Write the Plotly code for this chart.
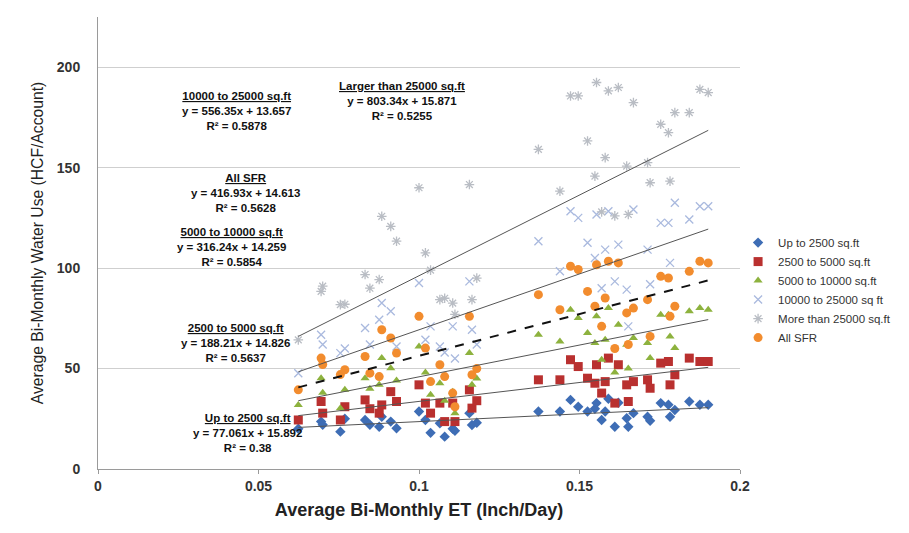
import plotly.graph_objects as go
import numpy as np

# Shared ET values (Inch/Day) per bi-monthly period
et = [0.0624, 0.0695, 0.0700, 0.0755, 0.0769, 0.0832, 0.0847, 0.0876, 0.0884, 0.0912,
      0.0930, 0.1000, 0.1020, 0.1036, 0.1065, 0.1080, 0.1105, 0.1112, 0.1157, 0.1165,
      0.1180,
      0.1372, 0.1439, 0.1472, 0.1496, 0.1525, 0.1548, 0.1553, 0.1569, 0.1580, 0.1590,
      0.1610, 0.1621, 0.1647, 0.1652, 0.1668, 0.1712, 0.1720, 0.1753, 0.1777, 0.1782,
      0.1797, 0.1842, 0.1875, 0.1901]

up_to_2500 = [20, 23.6, 22, 18.6, 25, 24.4, 22, 21, 26, 23.6,
              20.3, 28.6, 24.4, 18, 22.8, 16.1, 20, 19, 27.8, 21.9,
              23,
              28.6, 28.6, 34.4, 31, 28.6, 30, 32.8, 24.4, 28.6, 35,
              21, 33, 25.3, 21, 27.8, 26, 24, 32.8, 32, 26,
              29.4, 33.6, 32, 32]
s2500_5000 = [24.4, 33.6, 27.8, 24.4, 31, 34.4, 30, 27.8, 31.9, 38.5,
              33.6, 41.9, 32.8, 27.8, 32.8, 23.6, 32.8, 23.6, 39.4, 30.3,
              34,
              44.4, 44.4, 54.4, 51, 45.2, 42.7, 51.9, 37.8, 43.5, 55.2,
              32.8, 51.9, 41.9, 33.6, 43.5, 44.4, 40.2, 52.7, 53.5, 41.9,
              46.9, 55.2, 53.5, 53.5]
s5000_10000 = [31.9, 45.2, 38, 30.3, 39.4, 45.2, 40, 41.9, 55.2, 50.2,
               44, 61, 48, 36.9, 42.7, 34, 38.5, 27.8, 57.7, 41.9,
               45,
               66.8, 63.5, 79.3, 75.2, 67.7, 62.7, 76, 54.4, 64.3, 80.1,
               48, 71.8, 61.8, 50, 65.2, 62.7, 55.2, 76.8, 76.8, 66,
               60.2, 78.5, 80.1, 79.3]
s10000_25000 = [47.7, 66.8, 62, 57.7, 60, 70.2, 62, 74.3, 82.6, 78.5,
                61, 92.6, 64.3, 71, 61, 58, 71, 55, 93.4, 69.3,
                62,
                113.4, 98.4, 128.3, 125, 112.6, 105, 126.7, 90, 109.2, 128.3,
                93.4, 111.7, 89.3, 71, 129.2, 109.2, 92, 122.5, 122.5, 102.6,
                132.5, 124.2, 130.8, 130.8]
more_25000 = [64.3, 88.4, 91, 81.8, 82, 96.8, 90, 94.3, 125.8, 120.8,
              113.4, 140, 107.6, 99, 84.3, 85, 82.6, 77, 141.6, 84.3,
              95,
              159.1, 138.3, 185.7, 185.7, 163.3, 145.8, 192.4, 128, 155, 188.2,
              126, 189.9, 150.8, 126.7, 182.4, 152.5, 142.5, 171.6, 167.4, 143.3,
              177.4, 177.4, 189, 187.4]
all_sfr = [39.4, 55.2, 52, 47, 49.4, 56, 47.7, 46, 69.3, 65.2,
           57.7, 76, 60.2, 43.5, 51.9, 46, 37.8, 31, 76, 46.9,
           50,
           86.8, 79.3, 100.9, 99.3, 88.4, 81, 101.7, 71, 85.1, 103.4,
           60, 102.6, 77.7, 62, 80.1, 84.3, 66, 95.9, 95.1, 76,
           81, 98.4, 103.4, 102.6]

series_names = ["Up to 2500 sq.ft", "2500 to 5000 sq.ft", "5000 to 10000 sq.ft",
                "10000 to 25000 sq ft", "More than 25000 sq.ft", "All SFR"]
series_values = [up_to_2500, s2500_5000, s5000_10000, s10000_25000, more_25000, all_sfr]

# Linear trendline coefficients (slope, intercept, R²) as printed on the chart
trend_titles = ["Up to 2500 sq.ft", "2500 to 5000 sq.ft", "5000 to 10000 sq.ft",
                "10000 to 25000 sq.ft", "Larger than 25000 sq.ft", "All SFR"]
slopes = [77.061, 188.21, 316.24, 556.35, 803.34, 416.93]
intercepts = [15.892, 14.826, 14.259, 13.657, 15.871, 14.613]
r2 = ["0.38", "0.5637", "0.5854", "0.5878", "0.5255", "0.5628"]

x_ticks = [0, 0.05, 0.1, 0.15, 0.2]
x_tick_labels = ["0", "0.05", "0.1", "0.15", "0.2"]
y_ticks = [0, 50, 100, 150, 200]

colors = ["#3E6DB5", "#B9302F", "#8DB23E", "#A9B9DE", "#B9BDC4", "#F28C2E"]
symbols = ["diamond", "square", "triangle-up", "x-thin-open", "asterisk-open", "circle"]
sizes = [8, 9, 8, 8, 8, 9]

FONT = "Liberation Sans, Arial, sans-serif"

fig = go.Figure()

for name, vals, c, s, sz in zip(series_names, series_values, colors, symbols, sizes):
    if s.endswith("open"):
        marker = dict(symbol=s, size=sz, color=c, line=dict(color=c, width=1.3))
    else:
        marker = dict(symbol=s, size=sz, color=c, line=dict(width=0))
    fig.add_trace(go.Scatter(x=et, y=vals, mode="markers", name=name, marker=marker))

xline = np.array([min(et), max(et)])
for i, (m, b) in enumerate(zip(slopes, intercepts)):
    dashed = (i == 5)
    fig.add_trace(go.Scatter(
        x=xline, y=m * xline + b, mode="lines", showlegend=False, hoverinfo="skip",
        line=dict(color="#111111" if dashed else "#555555",
                  width=2 if dashed else 1,
                  dash="dash" if dashed else "solid")))

# annotation anchor positions (data coords, top-centre)
ann_x = [0.0467, 0.0427, 0.0417, 0.0430, 0.0947, 0.0458]
ann_y = [29.5, 74, 122, 189.5, 194.5, 149]
for t, m, b, r, ax, ay in zip(trend_titles, slopes, intercepts, r2, ann_x, ann_y):
    txt = f"<b><u>{t}</u></b><br><b>y = {m}x + {b}</b><br><b>R² = {r}</b>"
    fig.add_annotation(x=ax, y=ay, xref="x", yref="y", text=txt, showarrow=False,
                       xanchor="center", yanchor="top", align="center",
                       font=dict(family=FONT, size=11.5, color="#111111"))

# page body has an 8px margin: figure is sized/offset to compensate
fig.update_layout(
    width=901, height=525,
    margin=dict(l=90, r=169, t=9, b=64, autoexpand=False),
    paper_bgcolor="white", plot_bgcolor="white",
    font=dict(family=FONT, color="#333333"),
    legend=dict(x=0.997, y=0.533, xanchor="left", yanchor="top",
                font=dict(size=11.5, color="#333333"), tracegroupgap=2,
                itemwidth=30, bgcolor="rgba(0,0,0,0)"),
    xaxis=dict(range=[0, 0.2], tickvals=x_ticks, ticktext=x_tick_labels,
               showgrid=False, zeroline=False, showline=True, linecolor="#9a9a9a",
               ticks="outside", ticklen=4, tickcolor="#9a9a9a",
               tickfont=dict(size=14, color="#333333", family=FONT, weight="bold"),
               title=dict(text="<b>Average Bi-Monthly ET (Inch/Day)</b>",
                          font=dict(size=18, color="#222222", family=FONT), standoff=10)),
    yaxis=dict(range=[0, 225], tickvals=y_ticks, showgrid=True, gridcolor="#cfcfcf",
               zeroline=False, showline=True, linecolor="#9a9a9a",
               ticks="", ticklabelstandoff=14,
               tickfont=dict(size=14, color="#333333", family=FONT, weight="bold"),
               title=dict(text="Average Bi-Monthly Water Use (HCF/Account)",
                          font=dict(size=15.7, color="#222222", family=FONT), standoff=9)),
)

fig.write_html("out.html")
